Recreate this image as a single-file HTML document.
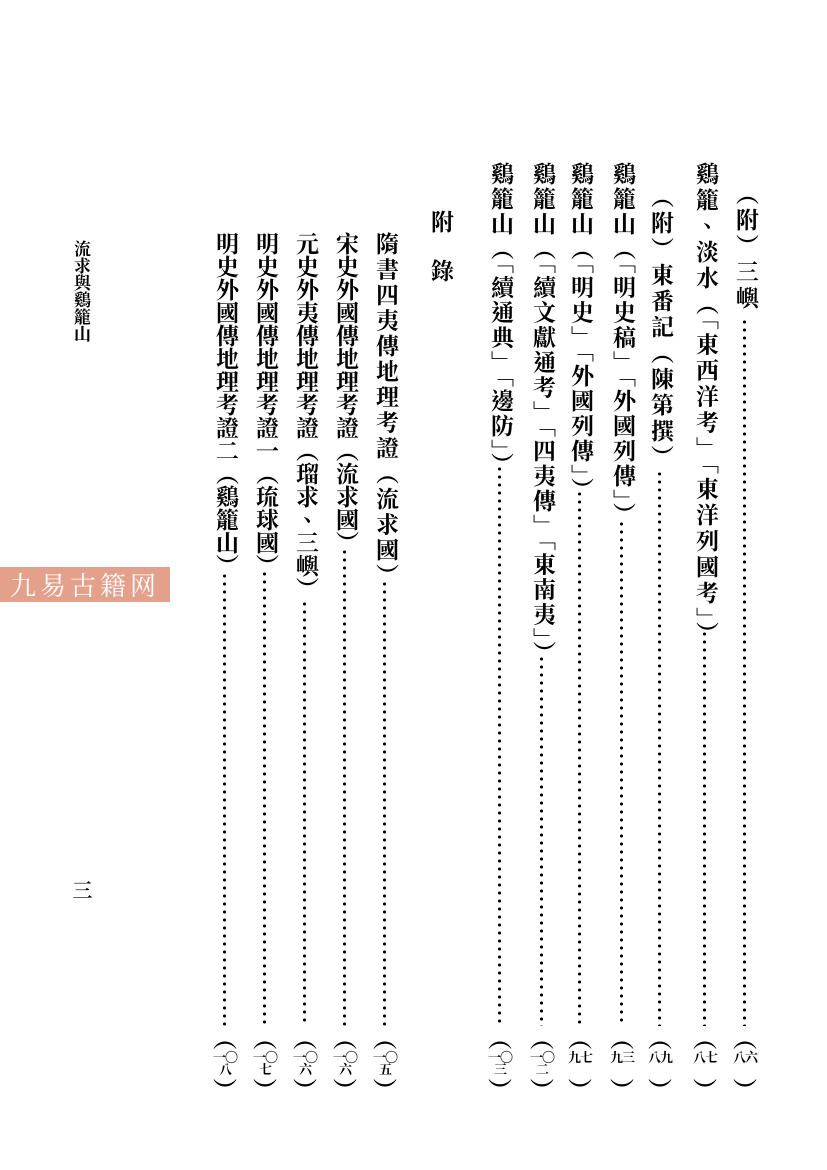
<!DOCTYPE html>
<html><head><meta charset="utf-8"><style>
body{margin:0;width:827px;height:1170px;background:#fff;position:relative;overflow:hidden;font-family:"Liberation Serif","Noto Serif CJK TC","Noto Serif CJK SC",serif;color:#000}
.c{position:absolute;writing-mode:vertical-rl;font-size:23px;line-height:24px;width:24px;letter-spacing:3px;white-space:nowrap;font-weight:bold}
.d{position:absolute;width:3px;background-image:radial-gradient(circle,#000 1.4px,transparent 1.7px);background-size:3px 8px;background-repeat:repeat-y}
.p{position:absolute;width:26px;text-align:center;font-size:24px;line-height:20px;font-weight:bold}
.p .n{font-size:13px;line-height:12px;font-weight:bold;display:block;height:28px;padding:2px 0;word-break:break-all;width:26px;letter-spacing:-1px}
</style></head><body>
<div class="c" style="left:733px;top:182px">（附）三嶼</div>
<div class="c" style="left:693px;top:162px">鷄籠、淡水（「東西洋考」「東洋列國考」）</div>
<div class="c" style="left:648px;top:185px">（附）東番記（陳第撰）</div>
<div class="c" style="left:610px;top:162px;letter-spacing:2px">鷄籠山（「明史稿」「外國列傳」）</div>
<div class="c" style="left:568px;top:162px;letter-spacing:2px">鷄籠山（「明史」「外國列傳」）</div>
<div class="c" style="left:530px;top:162px;letter-spacing:2px">鷄籠山（「續文獻通考」「四夷傳」「東南夷」）</div>
<div class="c" style="left:488px;top:162px;letter-spacing:2px">鷄籠山（「續通典」「邊防」）</div>
<div class="c" style="left:428px;top:210px;letter-spacing:26px">附錄</div>
<div class="c" style="left:373px;top:232px;letter-spacing:2.5px">隋書四夷傳地理考證（流求國）</div>
<div class="c" style="left:333px;top:232px;letter-spacing:0">宋史外國傳地理考證（流求國）</div>
<div class="c" style="left:293px;top:232px;letter-spacing:0">元史外夷傳地理考證（瑠求、三嶼）</div>
<div class="c" style="left:253px;top:232px;letter-spacing:0">明史外國傳地理考證一（琉球國）</div>
<div class="c" style="left:213px;top:232px;letter-spacing:0">明史外國傳地理考證二（鷄籠山）</div>

<div class="d" style="left:743px;top:318px;height:708px"></div>
<div class="d" style="left:703px;top:630px;height:396px"></div>
<div class="d" style="left:658px;top:470px;height:556px"></div>
<div class="d" style="left:620px;top:520px;height:506px"></div>
<div class="d" style="left:578px;top:490px;height:536px"></div>
<div class="d" style="left:540px;top:655px;height:371px"></div>
<div class="d" style="left:498px;top:465px;height:561px"></div>
<div class="d" style="left:383px;top:580px;height:446px"></div>
<div class="d" style="left:343px;top:548px;height:478px"></div>
<div class="d" style="left:303px;top:600px;height:426px"></div>
<div class="d" style="left:263px;top:570px;height:456px"></div>
<div class="d" style="left:223px;top:572px;height:454px"></div>

<div class="p" style="left:732px;top:1030px">︵<span class="n">八六</span>︶</div>
<div class="p" style="left:692px;top:1030px">︵<span class="n">八七</span>︶</div>
<div class="p" style="left:647px;top:1030px">︵<span class="n">八九</span>︶</div>
<div class="p" style="left:609px;top:1030px">︵<span class="n">九三</span>︶</div>
<div class="p" style="left:567px;top:1030px">︵<span class="n">九七</span>︶</div>
<div class="p" style="left:529px;top:1030px">︵<span class="n">一〇二</span>︶</div>
<div class="p" style="left:487px;top:1030px">︵<span class="n">一〇三</span>︶</div>
<div class="p" style="left:372px;top:1030px">︵<span class="n">一〇五</span>︶</div>
<div class="p" style="left:332px;top:1030px">︵<span class="n">一〇六</span>︶</div>
<div class="p" style="left:292px;top:1030px">︵<span class="n">一〇六</span>︶</div>
<div class="p" style="left:252px;top:1030px">︵<span class="n">一〇七</span>︶</div>
<div class="p" style="left:212px;top:1030px">︵<span class="n">一〇八</span>︶</div>

<div class="c" style="left:70px;top:240px;font-size:17px;line-height:20px;width:20px;letter-spacing:0;font-weight:bold">流求與鷄籠山</div>
<div class="c" style="left:68px;top:880px;font-size:20px">三</div>
<div style="position:absolute;left:0;top:567px;width:170px;height:35px;background:#e3a08a;color:#fff;font-size:26px;line-height:35px;text-align:center;letter-spacing:4px;font-family:'Noto Serif CJK SC',serif">九易古籍网</div>
</body></html>
